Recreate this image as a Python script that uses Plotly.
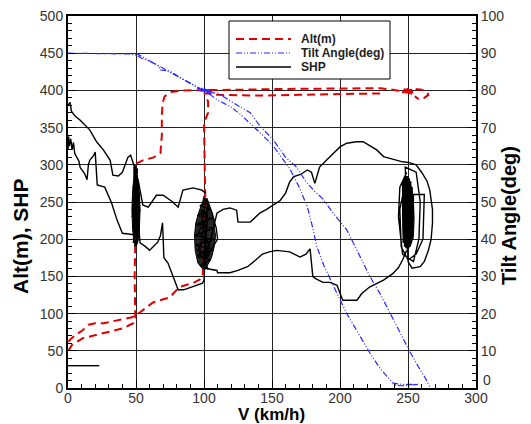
import plotly.graph_objects as go

# ---------------- data ----------------
# Altitude (m) vs speed V (km/h); None separates flight segments
alt_v = [0.3, 3, 11, 26, 40, 48, 49.5, 49, 49.5, 49, 48.5, 55, 63, 68, 69, 69, 69.5, 71, 76, 85, 100, 130, 160, 200, 230, 242,
         244, 254, 245, 255, 246, 253, 247, 252, 249, 255, 260, 264, 265, 262, 258, 255,
         None,
         0.3, 2, 7, 11, 15, 20, 26, 38, 47, 51, 55, 62.5, 75, 82, 92, 99, 100, 101, 100.5, 100, 103, 103, 100.5, 102, 110, 140, 170, 200, 230, 245]
alt_h = [50, 58, 67, 74, 80, 87, 92, 150, 200, 250, 300, 306, 310, 316, 340, 365, 382, 392, 398, 400, 400, 401, 402, 403, 403, 400,
         399, 401, 397, 398, 402, 395, 400, 403, 397, 402, 401, 398, 394, 390, 388, 392,
         None,
         62, 66, 73, 78, 85, 87, 87, 91, 95, 99, 105, 115, 122, 136, 141, 148, 200, 250, 300, 356, 370, 385, 396, 396, 394, 393, 394, 395, 396]

# Tilt angle (deg) vs V
tilt_v = [0, 20, 40, 45, 50, 55, 62, 67, 67.5, 75, 80, 90, 97,
          95, 107, 96, 106, 97, 105, 98, 104, 99, 103, 96, 106, 98, 105,
          110, 120, 134, 141, 151, 160, 168, 175, 181, 187, 195, 205, 213, 222, 230, 237, 244, 251, 258, 263, 266,
          None,
          50, 60, 70, 80, 90, 97, 104, 110, 120, 127, 134, 143, 151, 157, 163, 170, 176, 180, 183, 188, 193, 199, 205, 213,
          222, 230, 235, 239, 245, 258, 245, 240]
tilt_a = [90, 90, 90, 89.8, 89.5, 88.5, 87.5, 86.5, 85.5, 85.2, 84, 82, 80.5,
          80.5, 79.5, 80, 80.3, 79.8, 79.2, 80.6, 79.4, 80.2, 79.6, 80.8, 79.8, 80.1, 79.3,
          79.3, 77, 74, 70.5, 66.7, 62, 59.4, 55.5, 53, 51, 47, 42.5, 36.5, 30, 25, 20, 15, 10, 5.5, 2.5, 0.3,
          None,
          90, 88, 86, 84, 82, 80.5, 79, 77.4, 75.5, 73.5, 71.2, 68, 65, 62, 59, 54, 48.7, 43, 38, 33, 29, 24.5, 20, 15,
          9.4, 5, 3, 1.3, 1, 1, 0.6, 0.8]

# Shaft horse power vs V
shp_v = [0, 1.5, 2.5, 5, 9, 12, 16, 21, 26, 31, 33, 37, 40, 44, 46, 48, 51.5, 55, 59, 65, 70, 77, 81, 84.5, 92, 98.5, 101,
         None,
         0, 0.5, 1, 2, 3, 4, 5, 6.5, 8, 9, 12, 14, 15, 16, 19, 20, 20.5, 21.5, 27, 32, 36, 40, 48.5,
         49, 51, 48, 52, 47.5, 52.5, 47, 53, 47.5, 52, 48, 51.5, 49, 50.5, 48, 52, 48.5, 51, 49.5, 50.5, 48.5, 51.5, 49, 50.5, 49, 51, 48, 52, 49.5, 53,
         57, 60, 63, 66, 68, 69.5, 70, 70.5, 73.5, 77, 81, 85, 88, 93, 99, 100,
         103, 97, 105, 95, 106, 94, 107, 93, 108, 94, 107, 95, 105, 97, 103, 99, 104, 96, 102, 98, 101, 95, 104, 100, 110, 109, 106, 102, 98, 104, 96, 103, 99,
         105, 109.5, 114, 119, 124, 125, 134, 141, 146, 151, 156, 160, 163, 166, 171, 176, 179, 181.5, 185, 190, 195, 200, 205, 212, 217,
         222, 227, 232, 237, 242, 246, 251, 256, 260, 264, 266, 268, 268, 267, 265, 262, 259, 253, 250,
         248, 256, 259, 258, 254, 246, 243, 244, 249,
         246, 246.5, 247, 247.5, 248, 248.5, 249, 249.5, 250, 250.5, 251, 251.5, 252, 252.5, 253, 253.5, 254,
         262, 261, 256, 250, 245, 244, 249,
         None,
         100.7, 105, 109.5, 110, 119, 125, 132, 138, 143, 148, 153.5, 163, 170.6, 175, 178, 180, 182, 187.5, 192.6, 197.8, 200, 202, 212.5, 216, 222, 227, 232,
         239, 243, 246, 249,
         None,
         0, 23]
shp_p = [380, 384, 372, 366, 360, 354, 347, 331, 320, 306, 286, 285, 290, 310, 313, 302, 280, 246, 243, 259, 259, 250, 243, 266, 269, 266, 262,
         None,
         320, 338, 325, 335, 320, 330, 315, 310, 305, 296, 289, 280, 300, 306, 313, 317, 297, 273, 270, 249, 226, 208, 206,
         300, 290, 270, 275, 250, 255, 230, 240, 215, 220, 200, 210, 190, 205, 235, 260, 285, 295, 250, 215, 280, 265, 245, 225, 210, 230, 195, 245, 270, 195,
         190, 185, 190, 196, 205, 222, 200, 175, 168, 150, 132, 132, 134, 137, 141, 145,
         250, 245, 240, 232, 228, 220, 215, 205, 200, 192, 186, 178, 172, 165, 160, 175, 195, 210, 230, 240, 200, 185, 180, 170, 200, 215, 235, 255, 220, 190, 175, 250, 160,
         200, 235, 240, 242, 239, 223, 223, 235, 240, 246, 252, 262, 277, 284, 287, 293, 290, 275, 297, 306, 315, 324, 329, 331, 331,
         326, 320, 311, 308, 306, 304, 303, 300, 290, 278, 266, 240, 222, 200, 185, 170, 163, 161, 170,
         297, 290, 250, 200, 170, 180, 230, 270, 290,
         275, 195, 280, 190, 285, 188, 283, 186, 285, 188, 282, 190, 278, 195, 270, 200, 260,
         260, 200, 180, 172, 190, 240, 285,
         None,
         161, 160, 158, 155, 155, 158, 163, 172, 180, 183, 185, 183, 176, 180, 187, 150, 147, 142, 142, 138, 128, 118, 118, 127, 136, 140, 145,
         154, 162, 172, 185,
         None,
         30, 30]

# dense SHP clusters (oscillation regions) outlined as filled patches
blob50_v = [49.5, 51, 52.5, 53, 52.5, 51.5, 50, 48.5, 47.5, 47, 47.5, 48.5, 49.5]
blob50_p = [292, 282, 262, 240, 215, 197, 190, 196, 214, 240, 265, 284, 292]
blob100_v = [100, 103, 106, 107.5, 108.5, 107.5, 105.5, 102, 99, 95.5, 93.5, 93, 94, 96.5, 99, 100]
blob100_p = [258, 248, 235, 220, 205, 190, 175, 163, 160, 168, 185, 205, 222, 238, 250, 258]
blob250_v = [250, 252.5, 254, 254.5, 254, 252, 250, 248, 246.5, 246, 246.5, 248, 250]
blob250_p = [280, 270, 250, 228, 205, 192, 188, 192, 210, 235, 258, 274, 280]

# right-axis tick values (the "0" label sits slightly raised, above the x-axis "300")
tilt_ticks = [10, 20, 30, 40, 50, 60, 70, 80, 90, 100]
tilt_zero_label = "0"

# ---------------- figure ----------------
FONT = "Liberation Sans, Arial, sans-serif"
RED = "rgb(225,0,0)"
BLUE = "rgb(40,40,255)"

fig = go.Figure()
for bv, bp, op in [(blob50_v, blob50_p, 1.0), (blob100_v, blob100_p, 0.85), (blob250_v, blob250_p, 0.75)]:
    fig.add_trace(go.Scatter(x=bv, y=bp, mode="lines", fill="toself", fillcolor="rgba(0,0,0,%s)" % op,
                             line=dict(color="black", width=1), hoverinfo="skip"))
fig.add_trace(go.Scatter(x=alt_v, y=alt_h, mode="lines", name="Alt(m)",
                         line=dict(color=RED, width=2, dash="8px,5px"), connectgaps=False))
fig.add_trace(go.Scatter(x=tilt_v, y=tilt_a, mode="lines", name="Tilt Angle(deg)", yaxis="y2",
                         line=dict(color=BLUE, width=1.2, dash="6px,2px,1px,2px,1px,2px"), connectgaps=False))
fig.add_trace(go.Scatter(x=shp_v, y=shp_p, mode="lines", name="SHP",
                         line=dict(color="black", width=1.4), connectgaps=False))

axis_common = dict(
    ticks="inside", ticklen=8, tickwidth=1, tickcolor="black",
    showline=True, linecolor="black", linewidth=2,
    tickfont=dict(family=FONT, size=14, color="#333333"),
    zeroline=False, automargin=False,
)

fig.update_layout(
    width=531, height=424,
    margin=dict(l=68, r=55, t=16, b=36, autoexpand=False),
    paper_bgcolor="white", plot_bgcolor="white",
    showlegend=False,
    xaxis=dict(range=[0, 300], dtick=50, tick0=0, showgrid=True, gridcolor="#222222", gridwidth=1,
               mirror=True, ticklabelstandoff=-4,
               minor=dict(dtick=10, ticklen=4, ticks="inside", tickcolor="black", showgrid=False),
               **axis_common),
    yaxis=dict(range=[0, 500], dtick=50, tick0=0, showgrid=True, gridcolor="#222222", gridwidth=1,
               mirror=True,
               minor=dict(dtick=10, ticklen=4, ticks="inside", tickcolor="black", showgrid=False),
               **axis_common),
    yaxis2=dict(range=[0, 100], tickmode="array", tickvals=tilt_ticks, overlaying="y", side="right", showgrid=False,
                minor=dict(dtick=2, ticklen=4, ticks="inside", tickcolor="black", showgrid=False),
                **axis_common),
)

# pixel -> paper helpers for titles and the legend box
def px(xp):
    return (xp - 68) / 408.0

def py(yp):
    return (388 - yp) / 372.0

fig.add_annotation(xref="paper", yref="paper", x=px(481), y=py(380), text=tilt_zero_label,
                   showarrow=False, xanchor="left", yanchor="middle",
                   font=dict(family=FONT, size=14, color="#333333"))
fig.add_annotation(xref="paper", yref="paper", x=px(271), y=py(414), text="<b>V (km/h)</b>",
                   showarrow=False, xanchor="center", yanchor="middle",
                   font=dict(family=FONT, size=17, color="black"))
fig.add_annotation(xref="paper", yref="paper", x=px(21), y=py(236), text="<b>Alt(m), SHP</b>", textangle=-90,
                   showarrow=False, xanchor="center", yanchor="middle",
                   font=dict(family=FONT, size=21, color="black"))
fig.add_annotation(xref="paper", yref="paper", x=px(509), y=py(216), text="<b>Tilt Angle(deg)</b>", textangle=-90,
                   showarrow=False, xanchor="center", yanchor="middle",
                   font=dict(family=FONT, size=20, color="black"))

fig.add_shape(type="rect", xref="paper", yref="paper", x0=px(229), x1=px(390), y0=py(79), y1=py(21),
              line=dict(color="black", width=1), fillcolor="white", layer="above")
legend_items = [("Alt(m)", RED, 2, "8px,5px", 39),
                ("Tilt Angle(deg)", BLUE, 1.2, "6px,2px,1px,2px,1px,2px", 53),
                ("SHP", "black", 1.4, "solid", 67)]
for label, col, w, dash, yy in legend_items:
    fig.add_shape(type="line", xref="paper", yref="paper", x0=px(236), x1=px(291), y0=py(yy), y1=py(yy),
                  line=dict(color=col, width=w, dash=dash), layer="above")
    fig.add_annotation(xref="paper", yref="paper", x=px(299), y=py(yy), text="<b>" + label + "</b>",
                       showarrow=False, xanchor="left", yanchor="middle",
                       font=dict(family=FONT, size=12, color="#222222"))

fig.write_html("out.html")
